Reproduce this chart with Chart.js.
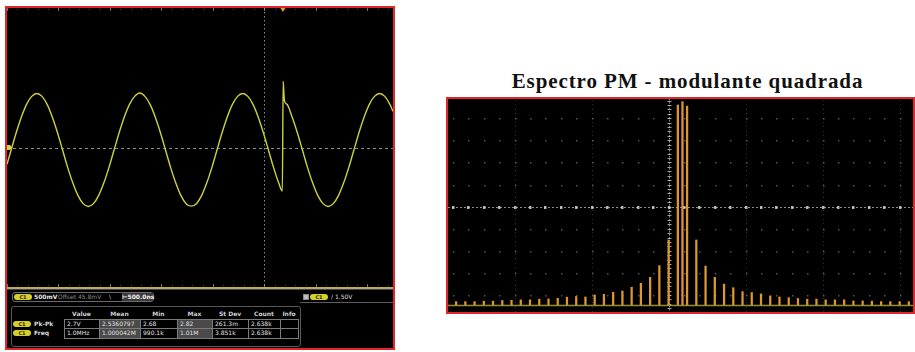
<!DOCTYPE html>
<html>
<head>
<meta charset="utf-8">
<script src="https://cdn.jsdelivr.net/npm/chart.js@4.4.0/dist/chart.umd.min.js"></script>
<style>
  html, body { margin: 0; padding: 0; background: #fff; width: 915px; height: 352px; overflow: hidden; }
  body { position: relative; font-family: "DejaVu Sans", sans-serif; }
  .abs { position: absolute; box-sizing: border-box; }
  .panel { border: 2px solid #e3262e; background: #000; }
  .txt { font-size: 6px; line-height: 9px; color: #dcdcdc; white-space: nowrap; }
  .b { font-weight: bold; }
  .badge { width: 18px; height: 6px; border-radius: 3px; background: #d6cf2a; color: #2a2a00;
           font-size: 5px; line-height: 6px; text-align: center; font-weight: bold; }
  .cell { border: 1px solid #7a7a7a; font-size: 6px; line-height: 8px; color: #e0e0e0; padding-left: 2px; white-space: nowrap; overflow: hidden; }
  .hl { background: #4a4a4a; }
  #title { font-family: "Liberation Serif", "Times New Roman", serif; font-weight: bold; font-size: 21px;
           letter-spacing: 0.9px; line-height: 20px; color: #111; text-align: center; }
</style>
</head>
<body>

<!-- time-domain scope screen -->
<div class="abs panel" style="left:5px;top:6px;width:390px;height:344px;"></div>
<canvas id="wave" class="abs" width="386" height="279" style="left:7px;top:8px;width:386px;height:279px;"></canvas>
<div class="abs" style="left:7px;top:287px;width:386px;height:2px;background:#c2b22c;"></div>
<div class="abs" style="left:7px;top:289px;width:386px;height:1px;background:#3d3a9c;"></div>
<div id="readout"></div>

<!-- spectrum screen -->
<div id="title" class="abs" style="left:460px;top:71px;width:455px;">Espectro PM - modulante quadrada</div>
<div class="abs panel" style="left:446px;top:97px;width:469px;height:217px;"></div>
<canvas id="spec" class="abs" width="465" height="213" style="left:448px;top:99px;width:465px;height:213px;"></canvas>

<script>
// ---- time-domain trace: time in µs, amplitude in V ----
const traceTimes = [
  0.00, 0.04, 0.09, 0.14, 0.19, 0.24, 0.29, 0.34, 0.39, 0.44, 0.49,
  0.54, 0.59, 0.64, 0.69, 0.74, 0.79, 0.84, 0.89, 0.94, 0.99,
  1.04, 1.09, 1.14, 1.19, 1.24, 1.29, 1.34, 1.39, 1.44, 1.49,
  1.54, 1.59, 1.64, 1.69, 1.74, 1.79, 1.84, 1.89, 1.94, 1.99,
  2.04, 2.09, 2.14, 2.19, 2.24, 2.29, 2.34, 2.39, 2.44, 2.49,
  2.54, 2.59, 2.64, 2.675, 2.683, 2.695,
  2.72, 2.77, 2.82, 2.87, 2.92, 2.97, 3.02, 3.07, 3.12, 3.17,
  3.22, 3.27, 3.32, 3.37, 3.42, 3.47, 3.52, 3.57, 3.62, 3.67, 3.72, 3.75
];
const traceVolts = [
  -0.40, -0.06, 0.36, 0.73, 1.03, 1.22, 1.29, 1.22, 1.03, 0.73, 0.36,
  -0.06, -0.48, -0.85, -1.15, -1.34, -1.41, -1.34, -1.15, -0.85, -0.48,
  -0.06, 0.36, 0.73, 1.03, 1.22, 1.30, 1.22, 1.03, 0.73, 0.36,
  -0.06, -0.48, -0.85, -1.15, -1.34, -1.40, -1.34, -1.15, -0.85, -0.48,
  -0.06, 0.36, 0.73, 1.03, 1.22, 1.29, 1.22, 1.03, 0.73, 0.36,
  -0.06, -0.48, -0.85, -1.04, 1.58, 1.12,
  1.03, 0.73, 0.36, -0.06, -0.48, -0.85, -1.15, -1.34, -1.41, -1.34,
  -1.15, -0.85, -0.48, -0.06, 0.36, 0.73, 1.03, 1.22, 1.29, 1.22, 1.03, 0.86
];

// ---- spectrum lines: frequency in kHz, amplitude in divisions ----
const specFreqs = [
  706, 718, 730, 742, 754, 766, 778, 790, 802, 814, 826, 838, 850,
  862, 874, 886, 898, 910, 922, 934, 946, 958, 970, 982, 994,
  1000,
  1006, 1018, 1030, 1042, 1054, 1066, 1078, 1090, 1102, 1114, 1126, 1138,
  1150, 1162, 1174, 1186, 1198, 1210, 1222, 1234, 1246, 1258, 1270, 1282, 1294
];
const specAmps = [
  0.15, 0.15, 0.15, 0.17, 0.17, 0.20, 0.21, 0.23, 0.23, 0.26, 0.27, 0.30, 0.35,
  0.38, 0.36, 0.45, 0.48, 0.57, 0.63, 0.80, 0.98, 1.25, 1.78, 2.94, 9.05,
  9.20,
  9.00, 2.94, 1.76, 1.25, 0.94, 0.78, 0.60, 0.56, 0.50, 0.41, 0.36, 0.33,
  0.29, 0.26, 0.26, 0.23, 0.23, 0.23, 0.18, 0.18, 0.17, 0.15, 0.15, 0.15, 0.15
];

// ---- measurement readout ----
const measHeaders = ['Value', 'Mean', 'Min', 'Max', 'St Dev', 'Count', 'Info'];
const measNames = ['Pk-Pk', 'Freq'];
const measPkPk = ['2.7V', '2.5360797', '2.68', '2.82', '261.3m', '2.638k', ''];
const measFreq = ['1.0MHz', '1.000042M', '990.1k', '1.01M', '3.851k', '2.638k', ''];
const channelScale = '500mV';
const channelOffset = 'Offset 45.8mV';
const timebase = '500.0ns';
const triggerLevel = '/ 1.50V';

// ---------- readout layout ----------
(function buildReadout() {
  const host = document.getElementById('readout');
  const add = (cls, style, text) => {
    const d = document.createElement('div');
    d.className = 'abs ' + cls;
    d.setAttribute('style', style);
    if (text !== undefined) d.textContent = text;
    host.appendChild(d);
    return d;
  };
  // channel / horizontal box
  add('', 'left:12px;top:292px;width:142px;height:10px;border:1px solid #6a6a6a;border-radius:3px;');
  add('badge', 'left:14px;top:294px;', 'C1');
  add('txt b', 'left:34px;top:292px;color:#e6e6e6;', channelScale);
  add('txt', 'left:58px;top:292px;color:#8c8c8c;', channelOffset);
  add('txt', 'left:109px;top:292px;color:#cfcfcf;', '\\');
  add('', 'left:122px;top:293px;width:31px;height:8px;background:#3a3a3a;');
  add('txt b', 'left:122px;top:292px;color:#f2f2f2;', '\u22A2' + timebase);
  // trigger readout
  add('', 'left:303px;top:294px;width:6px;height:6px;background:#bdbdbd;border:1px solid #888;');
  add('badge', 'left:310px;top:294px;', 'C1');
  add('txt', 'left:331px;top:292px;color:#dedede;', triggerLevel);
  add('', 'left:300px;top:302px;width:93px;height:1px;background:#5c5c5c;');

  // measurement table
  add('', 'left:11px;top:306px;width:290px;height:41px;border:1px solid #585858;border-radius:3px;');
  const colX = [64, 99, 140, 177, 212, 248, 280, 298];
  const rowY = [319, 328, 338];
  measHeaders.forEach((h, i) => {
    add('txt b', `left:${colX[i]}px;top:309px;width:${colX[i + 1] - colX[i]}px;text-align:center;color:#cfcfcf;`, h);
  });
  const rows = [measPkPk, measFreq];
  rows.forEach((vals, r) => {
    add('badge', `left:13px;top:${rowY[r] + 1.5}px;`, 'C1');
    add('txt b', `left:34px;top:${rowY[r]}px;color:#dcdcdc;`, measNames[r]);
    vals.forEach((v, c) => {
      const hl = (c === 1 || c === 3) ? ' hl' : '';
      add('cell' + hl, `left:${colX[c]}px;top:${rowY[r]}px;width:${colX[c + 1] - colX[c] + 1}px;height:${rowY[r + 1] - rowY[r] + 1}px;`, v);
    });
  });
})();

// ---------- time-domain graticule ----------
const SCREEN_CENTER_T = 2.5;   // µs, centre of the 10-division screen
const TRIGGER_T = 2.68;        // µs, trigger position marker
const TIME_DIV = 0.5;          // µs per division

const waveGrid = {
  id: 'waveGrid',
  beforeDatasetsDraw(chart) {
    const { ctx, chartArea: a, scales: { x, y } } = chart;
    ctx.save();
    // faint dotted top edge with division ticks
    ctx.fillStyle = 'rgba(120,120,120,0.55)';
    for (let t = 0; t <= 3.75 + 1e-6; t += TIME_DIV / 5) {
      const px = Math.round(x.getPixelForValue(t));
      ctx.fillRect(px, a.top + 1, 1, 1);
      ctx.fillRect(px, a.bottom - 2, 1, 1);
    }
    ctx.fillStyle = 'rgba(150,150,150,0.7)';
    for (let t = 0; t <= 3.75 + 1e-6; t += TIME_DIV) {
      const px = Math.round(x.getPixelForValue(t));
      ctx.fillRect(px, a.top, 1, 3);
      ctx.fillRect(px, a.bottom - 3, 1, 3);
    }
    // centre cross
    ctx.strokeStyle = 'rgba(175,175,175,0.8)';
    ctx.lineWidth = 1;
    ctx.setLineDash([3, 3]);
    const y0 = Math.round(y.getPixelForValue(0)) + 0.5;
    ctx.beginPath(); ctx.moveTo(a.left, y0); ctx.lineTo(a.right, y0); ctx.stroke();
    ctx.setLineDash([1.5, 2.5]);
    const xc = Math.round(x.getPixelForValue(SCREEN_CENTER_T)) + 0.5;
    ctx.beginPath(); ctx.moveTo(xc, a.top); ctx.lineTo(xc, a.bottom); ctx.stroke();
    ctx.restore();
  },
  afterDatasetsDraw(chart) {
    const { ctx, chartArea: a, scales: { x, y } } = chart;
    ctx.save();
    // trigger position marker
    const xt = x.getPixelForValue(TRIGGER_T);
    ctx.fillStyle = '#f0a030';
    ctx.beginPath();
    ctx.moveTo(xt - 2.5, a.top); ctx.lineTo(xt + 2.5, a.top); ctx.lineTo(xt, a.top + 4);
    ctx.closePath(); ctx.fill();
    // channel ground marker
    const yg = y.getPixelForValue(0);
    ctx.fillStyle = '#d6d640';
    ctx.beginPath();
    ctx.moveTo(a.left, yg - 2.5); ctx.lineTo(a.left + 3, yg - 2.5); ctx.lineTo(a.left + 5, yg);
    ctx.lineTo(a.left + 3, yg + 2.5); ctx.lineTo(a.left, yg + 2.5);
    ctx.closePath(); ctx.fill();
    ctx.restore();
  }
};

new Chart(document.getElementById('wave'), {
  type: 'line',
  data: {
    datasets: [{
      data: traceTimes.map((t, i) => ({ x: t, y: traceVolts[i] })),
      borderColor: '#cfd03e',
      borderWidth: 1.4,
      pointRadius: 0,
      cubicInterpolationMode: 'monotone',
      fill: false
    }]
  },
  options: {
    responsive: false,
    animation: false,
    events: [],
    layout: { padding: 0 },
    plugins: { legend: { display: false }, tooltip: { enabled: false } },
    scales: {
      x: { type: 'linear', display: false, min: 0, max: 3.75 },
      y: { type: 'linear', display: false, min: -3.33, max: 3.33 }
    }
  },
  plugins: [waveGrid]
});

// ---------- spectrum graticule ----------
const SPEC_CENTER_F = 982;    // kHz at the centre graticule line
const SPEC_DIV_F = 100;       // kHz per division
const SPEC_CENTER_A = 4.45;   // amplitude at the centre graticule line
const SPEC_DIV_A = 1;         // amplitude per division

const specGrid = {
  id: 'specGrid',
  beforeDatasetsDraw(chart) {
    const { ctx, chartArea: a, scales: { x, y } } = chart;
    ctx.save();
    const inX = px => px >= a.left && px <= a.right;
    const inY = py => py >= a.top && py <= a.bottom;
    // vertical division lines (faint dotted)
    for (let k = -4; k <= 4; k++) {
      if (k === 0) continue;
      const px = Math.round(x.getPixelForValue(SPEC_CENTER_F + k * SPEC_DIV_F));
      if (!inX(px)) continue;
      ctx.fillStyle = 'rgba(110,110,110,0.45)';
      for (let py = a.top + 1; py < a.bottom; py += 4.4) ctx.fillRect(px, Math.round(py), 1, 1);
    }
    // horizontal division rows (dots at each minor step)
    for (let k = -5; k <= 5; k++) {
      if (k === 0) continue;
      const py = Math.round(y.getPixelForValue(SPEC_CENTER_A + k * SPEC_DIV_A));
      if (!inY(py)) continue;
      for (let f = SPEC_CENTER_F - 4 * SPEC_DIV_F; f <= SPEC_CENTER_F + 4 * SPEC_DIV_F; f += SPEC_DIV_F / 5) {
        const px = Math.round(x.getPixelForValue(f));
        if (!inX(px)) continue;
        ctx.fillStyle = 'rgba(140,140,140,0.6)';
        ctx.fillRect(px, py, 1.5, 1.5);
      }
    }
    // centre horizontal line
    const yc = Math.round(y.getPixelForValue(SPEC_CENTER_A)) + 0.5;
    ctx.strokeStyle = 'rgba(190,190,190,0.75)';
    ctx.lineWidth = 1;
    ctx.setLineDash([2, 2]);
    ctx.beginPath(); ctx.moveTo(a.left, yc); ctx.lineTo(a.right, yc); ctx.stroke();
    ctx.setLineDash([]);
    ctx.fillStyle = 'rgba(210,210,210,0.85)';
    for (let f = SPEC_CENTER_F - 4 * SPEC_DIV_F; f <= SPEC_CENTER_F + 4 * SPEC_DIV_F; f += SPEC_DIV_F / 5) {
      const px = Math.round(x.getPixelForValue(f));
      if (inX(px)) ctx.fillRect(px - 1, yc - 1.5, 2.5, 3);
    }
    // centre vertical line with minor ticks
    const xc = Math.round(x.getPixelForValue(SPEC_CENTER_F)) + 0.5;
    ctx.strokeStyle = 'rgba(190,190,190,0.7)';
    ctx.setLineDash([1.5, 1.5]);
    ctx.beginPath(); ctx.moveTo(xc, a.top); ctx.lineTo(xc, a.bottom); ctx.stroke();
    ctx.setLineDash([]);
    ctx.fillStyle = 'rgba(200,200,200,0.8)';
    for (let v = SPEC_CENTER_A - 5 * SPEC_DIV_A; v <= SPEC_CENTER_A + 5 * SPEC_DIV_A; v += SPEC_DIV_A / 5) {
      const py = Math.round(y.getPixelForValue(v));
      if (inY(py)) ctx.fillRect(xc - 2, py, 4, 1);
    }
    ctx.restore();
  },
  afterDatasetsDraw(chart) {
    const { ctx, chartArea: a, scales: { y } } = chart;
    ctx.save();
    const yb = Math.round(y.getPixelForValue(0)) + 0.5;
    ctx.strokeStyle = 'rgba(180,165,45,0.85)';
    ctx.lineWidth = 1.5;
    ctx.beginPath(); ctx.moveTo(a.left, yb); ctx.lineTo(a.right, yb); ctx.stroke();
    ctx.restore();
  }
};

new Chart(document.getElementById('spec'), {
  type: 'bar',
  data: {
    datasets: [{
      data: specFreqs.map((f, i) => ({ x: f, y: specAmps[i] })),
      backgroundColor: '#dc982f',
      borderWidth: 0,
      barThickness: 1.6
    }]
  },
  options: {
    responsive: false,
    animation: false,
    events: [],
    layout: { padding: 0 },
    plugins: { legend: { display: false }, tooltip: { enabled: false } },
    scales: {
      x: { type: 'linear', display: false, offset: false, min: 695.5, max: 1299.4 },
      y: { type: 'linear', display: false, min: -0.32, max: 9.32 }
    }
  },
  plugins: [specGrid]
});
</script>
</body>
</html>
